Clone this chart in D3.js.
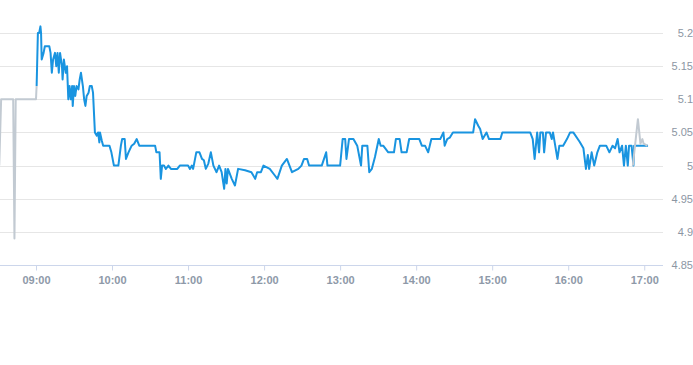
<!DOCTYPE html>
<html>
<head>
<meta charset="utf-8">
<script src="https://cdn.jsdelivr.net/npm/d3@7"></script>
<style>
  body { margin: 0; background: #fff; }
  svg { display: block; font-family: "Liberation Sans", Arial, sans-serif; }
</style>
</head>
<body>
<div id="plot"></div>
<script>
// pre-market (grey)
var preTimes = ["08:31:00","08:32:30","08:42:00","08:43:00","08:44:00","09:00:00","09:00:30"];
var preValues = [5.00, 5.10, 5.10, 4.89, 5.10, 5.10, 5.12];

// session (blue)
var mainTimes = [
  "09:00:30","09:01:30","09:02:30","09:03:30","09:04:00","09:04:30","09:06:00","09:07:00","09:10:30","09:11:30",
  "09:12:30","09:13:30","09:15:00","09:16:00","09:17:00","09:18:00","09:19:00","09:20:30","09:21:00","09:22:00",
  "09:23:30","09:24:30","09:25:30","09:26:30","09:27:30","09:28:30","09:29:00","09:30:00","09:31:00","09:32:00",
  "09:33:30","09:34:30","09:35:30","09:37:00","09:38:00","09:39:00","09:40:00","09:41:30","09:42:30","09:44:00",
  "09:45:00","09:46:30","09:48:00","09:49:00","09:50:00","09:50:30","09:52:00","09:53:00","09:58:00","09:59:30",
  "10:01:30","10:05:00","10:07:00","10:08:00","10:10:00","10:11:00","10:13:00","10:15:30","10:17:30","10:19:30",
  "10:21:30","10:34:00","10:35:00","10:37:30","10:38:30","10:39:30","10:41:00","10:42:30","10:44:30","10:46:30",
  "10:51:30","10:53:30","11:00:00","11:01:30","11:03:00","11:04:00","11:06:30","11:09:00","11:11:00","11:12:30",
  "11:14:00","11:16:00","11:18:00","11:20:00","11:22:30","11:24:30","11:26:30","11:28:30","11:29:30","11:30:30",
  "11:31:30","11:34:30","11:37:00","11:39:30","11:45:00","11:50:00","11:53:00","11:54:30","11:57:30","11:59:30",
  "12:04:30","12:08:30","12:10:30","12:14:00","12:18:00","12:22:00","12:27:00","12:29:30","12:31:30","12:34:00",
  "12:35:30","12:45:30","12:49:00","12:50:00","13:00:00","13:02:00","13:04:00","13:05:00","13:07:00","13:10:30",
  "13:13:30","13:16:30","13:17:30","13:21:30","13:23:00","13:25:00","13:27:30","13:30:30","13:32:00","13:34:00",
  "13:38:00","13:42:30","13:44:00","13:47:00","13:48:30","13:52:30","13:54:30","14:02:30","14:04:30","14:07:00",
  "14:09:30","14:12:00","14:19:00","14:21:30","14:22:30","14:24:30","14:26:30","14:29:00","14:45:00","14:46:30",
  "14:49:00","14:50:30","14:52:30","14:55:30","14:57:30","15:06:30","15:08:00","15:30:00","15:32:00","15:33:30",
  "15:35:30","15:37:00","15:38:00","15:40:00","15:41:00","15:42:30","15:45:30","15:47:00","15:48:00","15:51:30",
  "15:53:00","15:56:00","15:59:00","16:01:30","16:04:00","16:09:00","16:12:00","16:14:00","16:15:30","16:16:30",
  "16:18:30","16:20:30","16:23:00","16:25:00","16:30:00","16:32:30","16:35:00","16:37:00","16:39:00","16:40:30",
  "16:42:30","16:44:00","16:45:30","16:47:00","16:48:00","16:50:00","16:51:30","16:52:00","17:03:00"
];
var mainValues = [
  5.12, 5.20, 5.20, 5.21, 5.20, 5.16, 5.17, 5.18, 5.18, 5.17,
  5.14, 5.16, 5.17, 5.15, 5.17, 5.14, 5.17, 5.15, 5.13, 5.16,
  5.14, 5.15, 5.10, 5.12, 5.10, 5.12, 5.09, 5.12, 5.105, 5.12,
  5.115, 5.13, 5.14, 5.12, 5.10, 5.09, 5.105, 5.11, 5.12, 5.12,
  5.11, 5.05, 5.045, 5.05, 5.035, 5.05, 5.037, 5.03, 5.03, 5.02,
  5.00, 5.00, 5.03, 5.04, 5.04, 5.01, 5.02, 5.03, 5.033, 5.04,
  5.03, 5.03, 5.02, 5.02, 4.98, 5.00, 5.00, 4.995, 5.00, 4.995,
  4.995, 5.00, 5.00, 4.995, 5.00, 4.995, 5.02, 5.02, 5.01, 5.008,
  4.995, 5.003, 5.02, 5.00, 4.99, 5.00, 4.99, 4.965, 4.995, 4.973,
  4.995, 4.98, 4.97, 4.995, 4.993, 4.99, 4.98, 4.99, 4.99, 5.00,
  4.995, 4.985, 4.98, 5.00, 5.01, 4.99, 4.995, 5.00, 5.01, 5.01,
  5.00, 5.00, 5.02, 5.00, 5.00, 5.04, 5.04, 5.01, 5.04, 5.04,
  5.03, 5.00, 5.03, 5.03, 4.99, 4.995, 5.013, 5.04, 5.03, 5.03,
  5.02, 5.02, 5.04, 5.04, 5.02, 5.02, 5.04, 5.04, 5.03, 5.03,
  5.02, 5.04, 5.04, 5.05, 5.03, 5.04, 5.042, 5.05, 5.05, 5.07,
  5.06, 5.055, 5.04, 5.05, 5.04, 5.04, 5.05, 5.05, 5.04, 5.01,
  5.05, 5.02, 5.05, 5.05, 5.02, 5.05, 5.05, 5.04, 5.05, 5.01,
  5.03, 5.03, 5.04, 5.05, 5.05, 5.036, 5.026, 4.995, 5.016, 4.995,
  5.02, 5.00, 5.02, 5.03, 5.03, 5.02, 5.03, 5.026, 5.04, 5.02,
  5.03, 5.00, 5.03, 5.00, 5.03, 5.03, 5.00, 5.03, 5.03
];

// after the close (grey)
var postTimes = ["16:51:00","16:55:00","16:57:00","16:58:30","16:59:30","17:02:30"];
var postValues = [5.00, 5.07, 5.033, 5.04, 5.033, 5.03];

var yTicks = [4.85, 4.9, 4.95, 5, 5.05, 5.1, 5.15, 5.2];
var xTicks = ["09:00","10:00","11:00","12:00","13:00","14:00","15:00","16:00","17:00"];

var W = 693, H = 365;
var plotRight = 663, plotBottom = 265, plotTop = 33;

var parseT = d3.timeParse("%H:%M:%S");
var parseH = d3.timeParse("%H:%M");

function pairs(times, values) {
  return times.map(function(t, i) { return {date: parseT(t), value: values[i]}; });
}
var pre = pairs(preTimes, preValues),
    main = pairs(mainTimes, mainValues),
    post = pairs(postTimes, postValues);

var svg = d3.select("#plot").append("svg")
    .attr("width", W)
    .attr("height", H);

var x = d3.scaleTime()
    .domain([parseT("08:31:36"), parseT("17:14:48")])
    .range([0, plotRight]);

var y = d3.scaleLinear()
    .domain([4.85, 5.2])
    .range([plotBottom, plotTop]);

// grid lines
svg.append("g")
    .selectAll("line")
    .data(yTicks.slice(1))
    .enter()
    .append("line")
    .attr("x1", 0)
    .attr("x2", plotRight)
    .attr("y1", function(d) { return Math.round(y(d)) + 0.5; })
    .attr("y2", function(d) { return Math.round(y(d)) + 0.5; })
    .attr("stroke", "#e6e6e6")
    .attr("stroke-width", 1);

// y labels on the right
svg.append("g")
    .selectAll("text")
    .data(yTicks)
    .enter()
    .append("text")
    .attr("x", 693)
    .attr("y", function(d) { return y(d) + 4; })
    .attr("text-anchor", "end")
    .style("font-size", "11px")
    .style("fill", "#8c96a3")
    .text(function(d) { return d3.format("")(d); });

// x axis
var xAxis = svg.append("g")
    .attr("transform", "translate(0," + (plotBottom + 0.5) + ")")
    .call(d3.axisBottom(x)
        .tickValues(xTicks.map(function(t) { return parseH(t); }))
        .tickSize(5)
        .tickPadding(6)
        .tickFormat(d3.timeFormat("%H:%M")));
xAxis.select(".domain")
    .attr("d", "M0,0H" + plotRight)
    .attr("stroke", "#ccd6eb");
xAxis.selectAll(".tick line").attr("stroke", "#ccd6eb");
xAxis.selectAll(".tick text")
    .style("font-size", "11px")
    .style("font-weight", "bold")
    .style("font-family", "'Liberation Sans', Arial, sans-serif")
    .style("fill", "#8e99a8");

var line = d3.line()
    .x(function(d) { return x(d.date); })
    .y(function(d) { return y(d.value); });

svg.append("path")
    .datum(pre)
    .attr("fill", "none")
    .attr("stroke", "#c2cad2")
    .attr("stroke-width", 2)
    .attr("stroke-linejoin", "round")
    .attr("d", line);

svg.append("path")
    .datum(main)
    .attr("fill", "none")
    .attr("stroke", "#1994e0")
    .attr("stroke-width", 2)
    .attr("stroke-linejoin", "round")
    .attr("d", line);

svg.append("path")
    .datum(post)
    .attr("fill", "none")
    .attr("stroke", "#c2cad2")
    .attr("stroke-width", 2)
    .attr("stroke-linejoin", "round")
    .attr("d", line);
</script>
</body>
</html>
